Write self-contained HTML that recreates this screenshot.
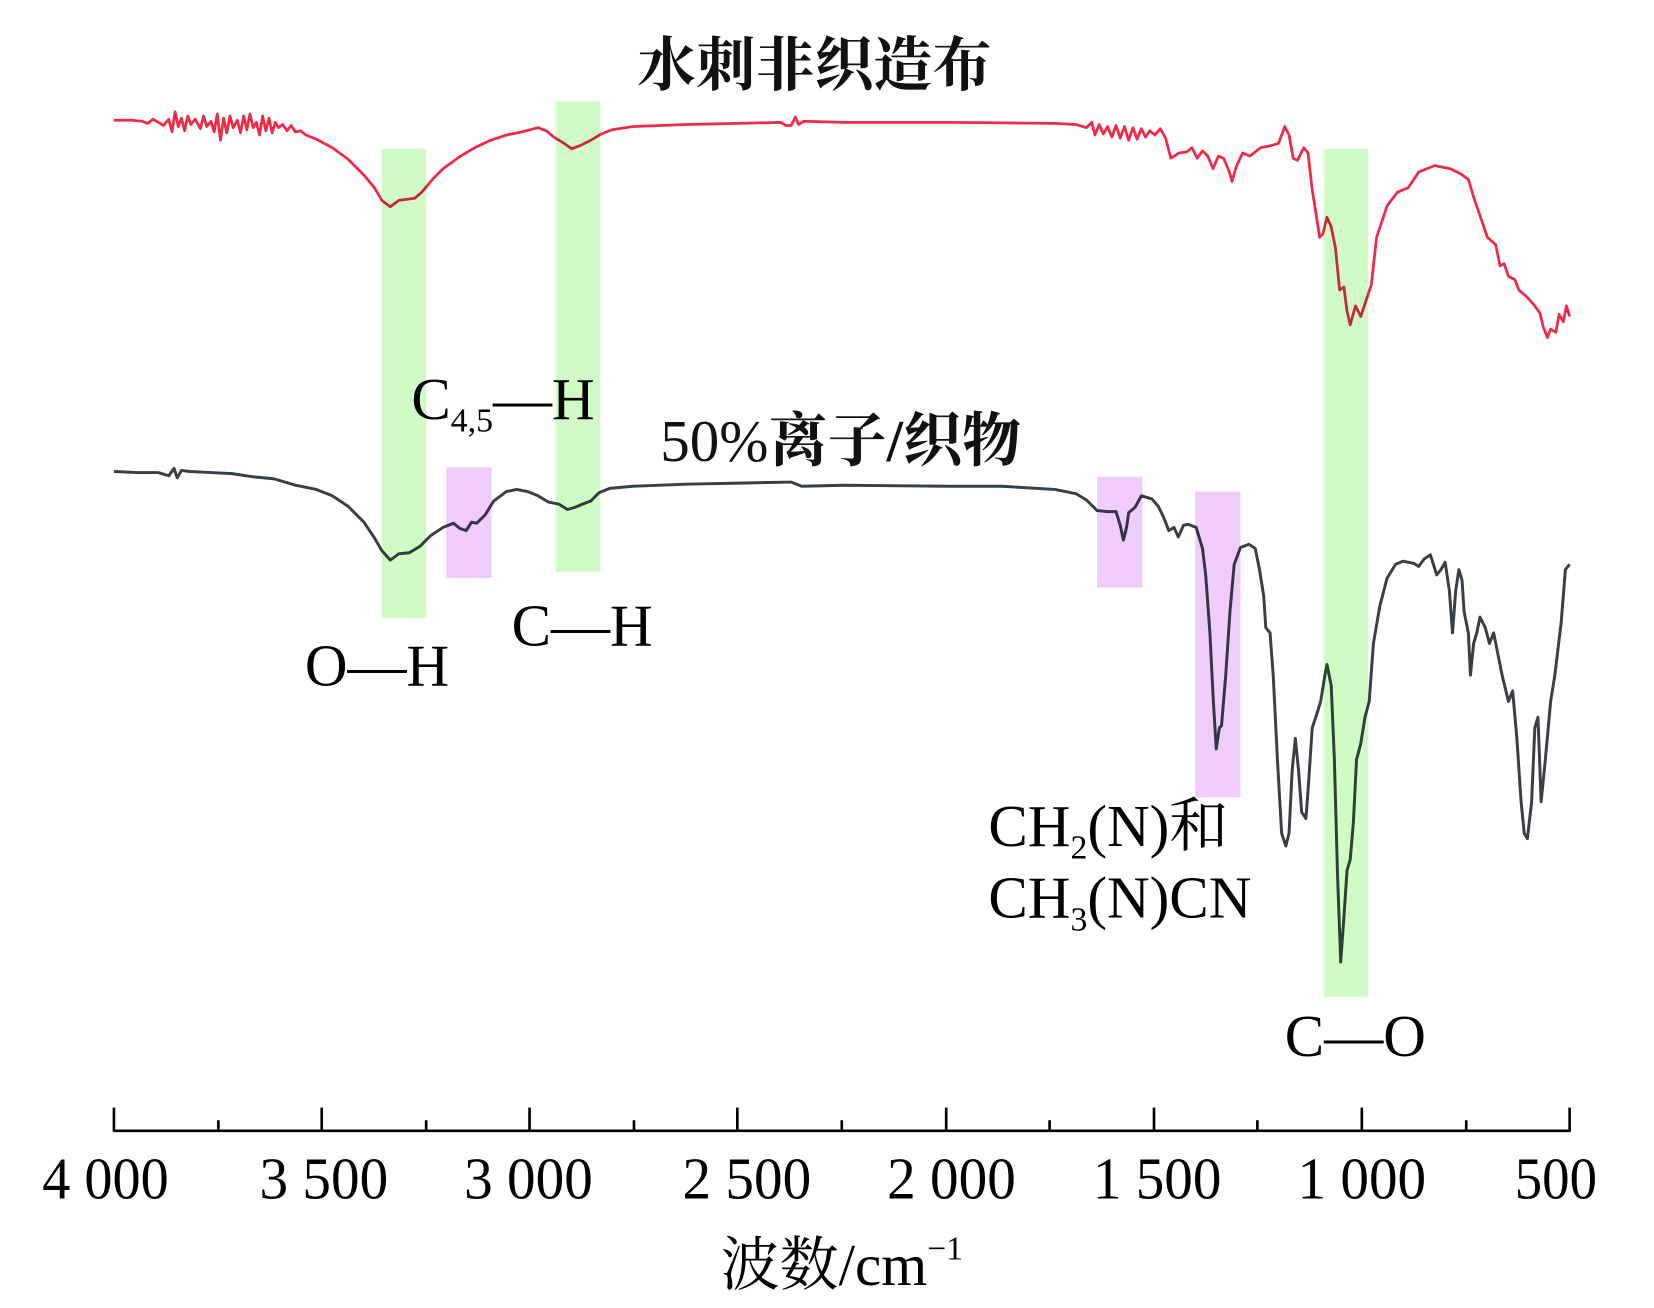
<!DOCTYPE html>
<html><head><meta charset="utf-8"><style>
html,body{margin:0;padding:0;background:#fff;}
svg{display:block;}
.t{font-family:"Liberation Serif","Noto Serif CJK SC",serif;fill:#000;}
.c{font-family:"Liberation Serif","Noto Serif CJK SC","Noto Sans CJK SC",serif;font-weight:bold;fill:#111;}
</style></head><body>
<svg width="1654" height="1308" viewBox="0 0 1568 1240" preserveAspectRatio="none" xmlns="http://www.w3.org/2000/svg">
<rect width="1568" height="1240" fill="#fff"/>
<polyline fill="none" stroke="#ee2a44" stroke-width="2.6" stroke-linejoin="round" points="
108,114 125,114 135,115 140,117 145,113 150,116 155,119 160,113 163,125 166,106 169,120 172,112 175,124 178,110 181,118 185,113 190,122 193,110 196,120 200,115 203,125 206,108 209,133 212,112 215,126 218,110 221,121 225,114 228,126 231,110 234,123 237,108 240,121 243,116 246,128 249,110 252,124 255,112 258,126 261,116 264,121 268,118 272,124 276,119 280,125 285,124 290,128 300,132 315,140 330,151 345,166 355,178 362,190 370,196 378,190 385,189 393,188 400,182 410,170 420,160 435,149 450,140 465,133 480,128 495,125 510,121 518,124 525,130 535,136 542,141 550,138 560,133 570,127 580,123 600,120 650,118 700,117 740,116 745,119 750,119 754,111 757,118 762,115 800,116 900,116 1000,117 1020,118 1030,121 1035,116 1038,128 1042,118 1046,127 1050,120 1054,130 1058,119 1062,131 1066,120 1070,133 1074,121 1078,132 1082,122 1086,130 1090,124 1095,128 1100,122 1105,131 1110,150 1118,145 1125,144 1130,140 1135,150 1140,143 1145,148 1150,160 1155,148 1160,150 1165,162 1168,172 1172,158 1178,145 1185,148 1195,140 1205,138 1212,136 1218,120 1222,128 1226,150 1230,152 1236,140 1240,145 1244,180 1248,205 1251,225 1254,222 1258,206 1262,215 1266,235 1270,275 1274,272 1277,295 1280,308 1285,290 1290,300 1295,285 1300,270 1305,225 1315,195 1325,182 1335,178 1345,163 1360,157 1375,160 1385,165 1392,170 1398,190 1405,210 1410,225 1418,232 1422,252 1426,250 1430,262 1436,265 1440,275 1448,282 1455,290 1460,297 1463,310 1467,320 1470,312 1475,315 1478,298 1482,305 1485,290 1488,300"/>
<polyline fill="none" stroke="#384046" stroke-width="2.8" stroke-linejoin="round" points="
108,447 130,448 150,448 160,451 165,444 168,453 172,446 180,447 200,448 220,449 240,452 260,454 280,460 300,464 315,470 330,480 345,495 355,510 362,522 370,531 378,525 388,524 398,518 408,508 420,500 430,496 436,501 442,503 447,495 452,496 460,488 468,475 480,466 490,464 500,466 510,470 520,476 530,478 538,483 545,481 552,478 560,475 568,467 578,463 600,461 650,459 700,458 750,457 760,461 800,460 900,461 950,461 1000,464 1020,468 1030,474 1040,484 1050,485 1058,485 1062,498 1065,512 1068,500 1070,486 1076,481 1082,470 1092,473 1098,480 1103,490 1108,503 1113,500 1117,509 1122,498 1126,497 1134,500 1140,520 1143,545 1147,600 1150,660 1153,710 1156,690 1158,688 1162,640 1166,580 1170,535 1176,519 1184,516 1190,520 1194,540 1198,565 1200,595 1204,600 1207,640 1211,720 1215,790 1219,802 1222,790 1225,730 1228,700 1231,730 1234,770 1238,776 1240,750 1244,690 1248,678 1252,665 1256,640 1258,630 1262,650 1265,720 1268,830 1271,912 1274,870 1277,825 1280,815 1283,780 1286,720 1290,705 1294,680 1298,665 1302,610 1308,575 1315,548 1323,535 1330,532 1340,534 1345,537 1350,530 1356,526 1362,545 1366,540 1370,533 1374,560 1377,600 1380,560 1383,540 1386,550 1388,580 1392,600 1394,640 1397,610 1400,600 1403,585 1408,595 1412,610 1416,600 1420,620 1424,640 1430,665 1434,655 1438,700 1442,760 1445,790 1448,795 1452,760 1455,690 1458,680 1461,760 1465,720 1470,665 1474,640 1480,590 1484,540 1488,535"/>
<g style="mix-blend-mode:multiply">
<rect x="362" y="141" width="42" height="445" fill="#d0fbc4"/>
<rect x="527" y="96" width="42" height="446" fill="#d0fbc4"/>
<rect x="1255" y="141" width="42" height="804" fill="#d0fbc4"/>
<rect x="423" y="443" width="43" height="105" fill="#f0ccfa"/>
<rect x="1040" y="452" width="43" height="105" fill="#f0ccfa"/>
<rect x="1133" y="466" width="43" height="290" fill="#f0ccfa"/>
</g>
<g stroke="#000" stroke-width="2.5">
<line x1="107" y1="1072" x2="1489" y2="1072"/>
<line x1="108" y1="1050" x2="108" y2="1072"/><line x1="305" y1="1050" x2="305" y2="1072"/>
<line x1="502" y1="1050" x2="502" y2="1072"/><line x1="699" y1="1050" x2="699" y2="1072"/>
<line x1="897" y1="1050" x2="897" y2="1072"/><line x1="1094" y1="1050" x2="1094" y2="1072"/>
<line x1="1291" y1="1050" x2="1291" y2="1072"/><line x1="1488" y1="1050" x2="1488" y2="1072"/>
<line x1="207" y1="1062" x2="207" y2="1072"/><line x1="404" y1="1062" x2="404" y2="1072"/>
<line x1="601" y1="1062" x2="601" y2="1072"/><line x1="798" y1="1062" x2="798" y2="1072"/>
<line x1="995" y1="1062" x2="995" y2="1072"/><line x1="1192" y1="1062" x2="1192" y2="1072"/>
<line x1="1390" y1="1062" x2="1390" y2="1072"/>
</g>
<g class="t" font-size="56" text-anchor="middle">
<text x="100" y="1136" textLength="120" lengthAdjust="spacingAndGlyphs">4 000</text>
<text x="307" y="1136" textLength="122" lengthAdjust="spacingAndGlyphs">3 500</text>
<text x="501" y="1136" textLength="122" lengthAdjust="spacingAndGlyphs">3 000</text>
<text x="708" y="1136" textLength="122" lengthAdjust="spacingAndGlyphs">2 500</text>
<text x="902" y="1136" textLength="122" lengthAdjust="spacingAndGlyphs">2 000</text>
<text x="1097" y="1136" textLength="122" lengthAdjust="spacingAndGlyphs">1 500</text>
<text x="1291" y="1136" textLength="122" lengthAdjust="spacingAndGlyphs">1 000</text>
<text x="1475" y="1136" textLength="78" lengthAdjust="spacingAndGlyphs">500</text>
<text x="798" y="1218" font-size="56">波数/cm<tspan font-size="32" dy="-24">−1</tspan></text>
</g>
<text class="c" x="772" y="81" font-size="56" text-anchor="middle">水刺非织造布</text>
<text class="c" x="797" y="437" font-size="56" text-anchor="middle"><tspan font-weight="normal">50%</tspan>离子/织物</text>
<g class="t" font-size="56">
<text x="390" y="397">C<tspan font-size="32" dy="12">4,5</tspan><tspan dy="-12">—H</tspan></text>
<text x="289" y="650">O—H</text>
<text x="485" y="612">C—H</text>
<text x="937" y="802">CH<tspan font-size="32" dy="12">2</tspan><tspan dy="-12">(N)和</tspan></text>
<text x="937" y="870">CH<tspan font-size="32" dy="12">3</tspan><tspan dy="-12">(N)CN</tspan></text>
<text x="1218" y="1001">C—O</text>
</g>
</svg>
</body></html>
